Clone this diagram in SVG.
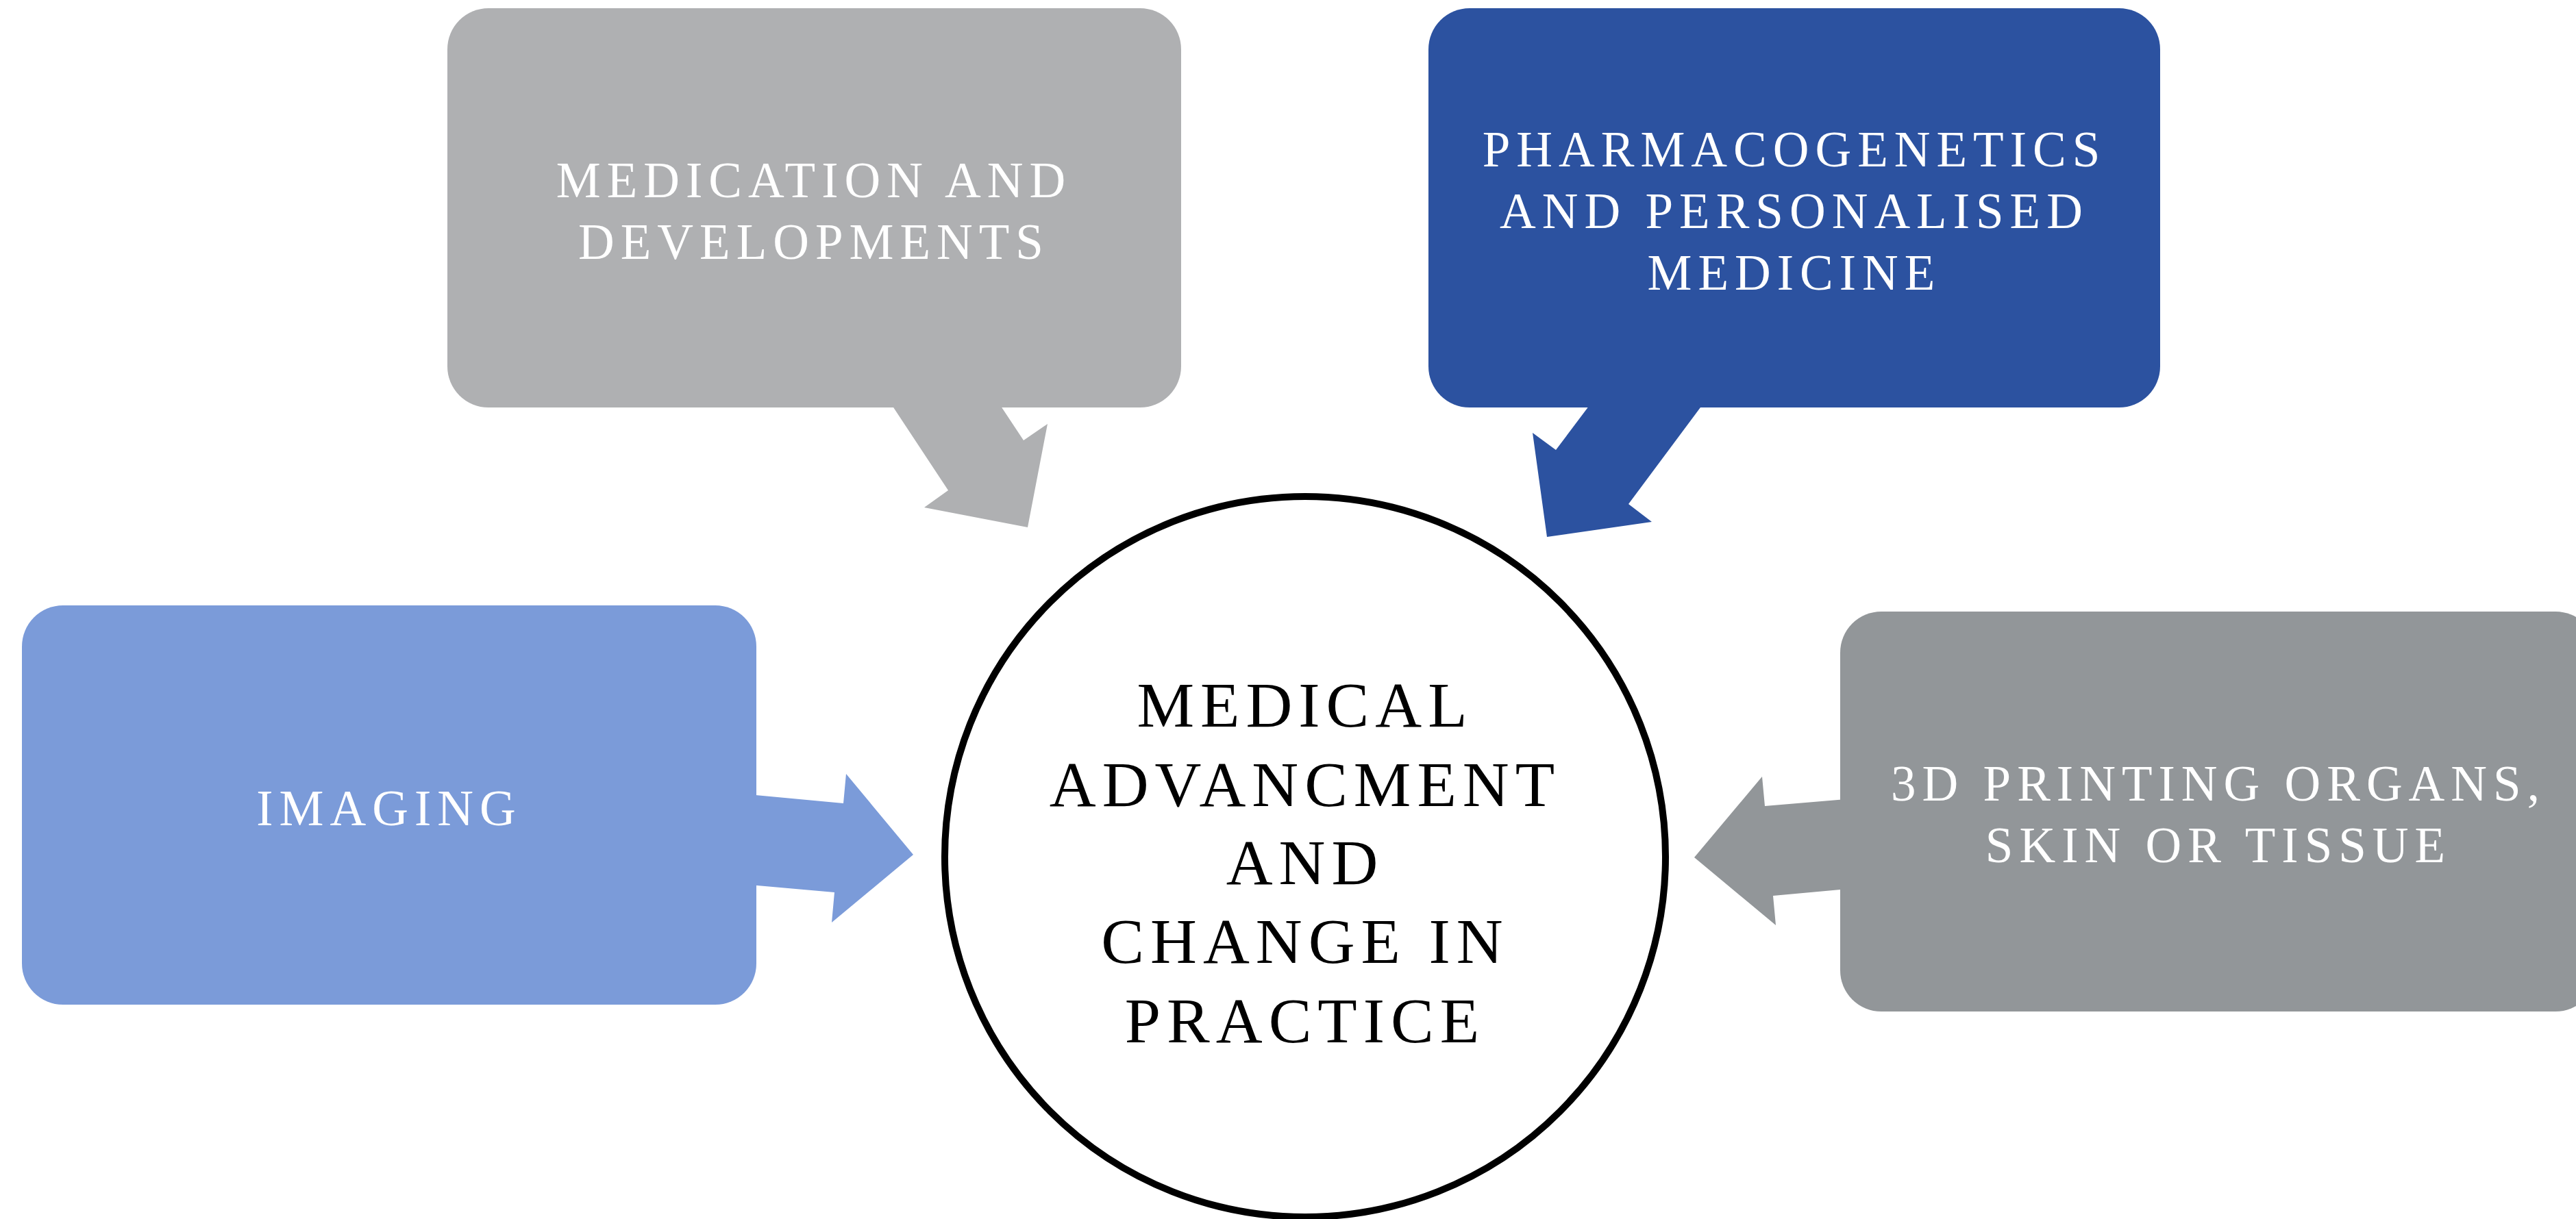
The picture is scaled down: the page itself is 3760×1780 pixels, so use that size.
<svg xmlns="http://www.w3.org/2000/svg" width="3760" height="1780" viewBox="0 0 3760 1780">
<style>
.lbl{font-family:"Liberation Serif","Times New Roman",serif;fill:#ffffff;font-size:73px;letter-spacing:9px;text-anchor:middle}
.ctr{font-family:"Liberation Serif","Times New Roman",serif;fill:#000000;font-size:94px;letter-spacing:9px;text-anchor:middle}
</style>
<rect width="3760" height="1780" fill="#ffffff"/>
<g id="connectors">
<polygon fill="#AFB0B2" points="1281,560 1384,716 1349,741 1500,770 1529,619 1494,643 1439,560"/>
<polygon fill="#2C52A0" points="2344,560 2271,657 2237,632 2258,784 2411,762 2377,736 2508,560"/>
<polygon fill="#7B9BD9" points="1060,1157 1231,1173 1235,1130 1333,1248 1214,1347 1218,1303 1060,1289"/>
<polygon fill="#929699" points="2730,1164 2576,1177 2572,1134 2473,1252 2592,1351 2588,1308 2730,1295"/>
</g>
<g id="node-medication">
<rect x="653" y="12" width="1071" height="583" rx="60" ry="60" fill="#AFB0B2"/>
<text class="lbl" x="1188" y="288">MEDICATION AND</text>
<text class="lbl" x="1188" y="378">DEVELOPMENTS</text>
</g>
<g id="node-pharmaco">
<rect x="2085" y="12" width="1068" height="583" rx="60" ry="60" fill="#2C52A0"/>
<text class="lbl" x="2619" y="243">PHARMACOGENETICS</text>
<text class="lbl" x="2619" y="333">AND PERSONALISED</text>
<text class="lbl" x="2619" y="423">MEDICINE</text>
</g>
<g id="node-imaging">
<rect x="32" y="884" width="1072" height="583" rx="60" ry="60" fill="#7B9BD9"/>
<text class="lbl" x="568" y="1205">IMAGING</text>
</g>
<g id="node-3d">
<rect x="2686" y="893" width="1104" height="584" rx="60" ry="60" fill="#929699"/>
<text class="lbl" x="3238" y="1169">3D PRINTING ORGANS,</text>
<text class="lbl" x="3238" y="1259">SKIN OR TISSUE</text>
</g>
<g id="node-center">
<circle cx="1905" cy="1251" r="526" fill="#ffffff" stroke="#000000" stroke-width="10"/>
<text class="ctr" x="1905" y="1061">MEDICAL</text>
<text class="ctr" x="1905" y="1177">ADVANCMENT</text>
<text class="ctr" x="1905" y="1291">AND</text>
<text class="ctr" x="1905" y="1406">CHANGE IN</text>
<text class="ctr" x="1905" y="1522">PRACTICE</text>
</g>
</svg>
